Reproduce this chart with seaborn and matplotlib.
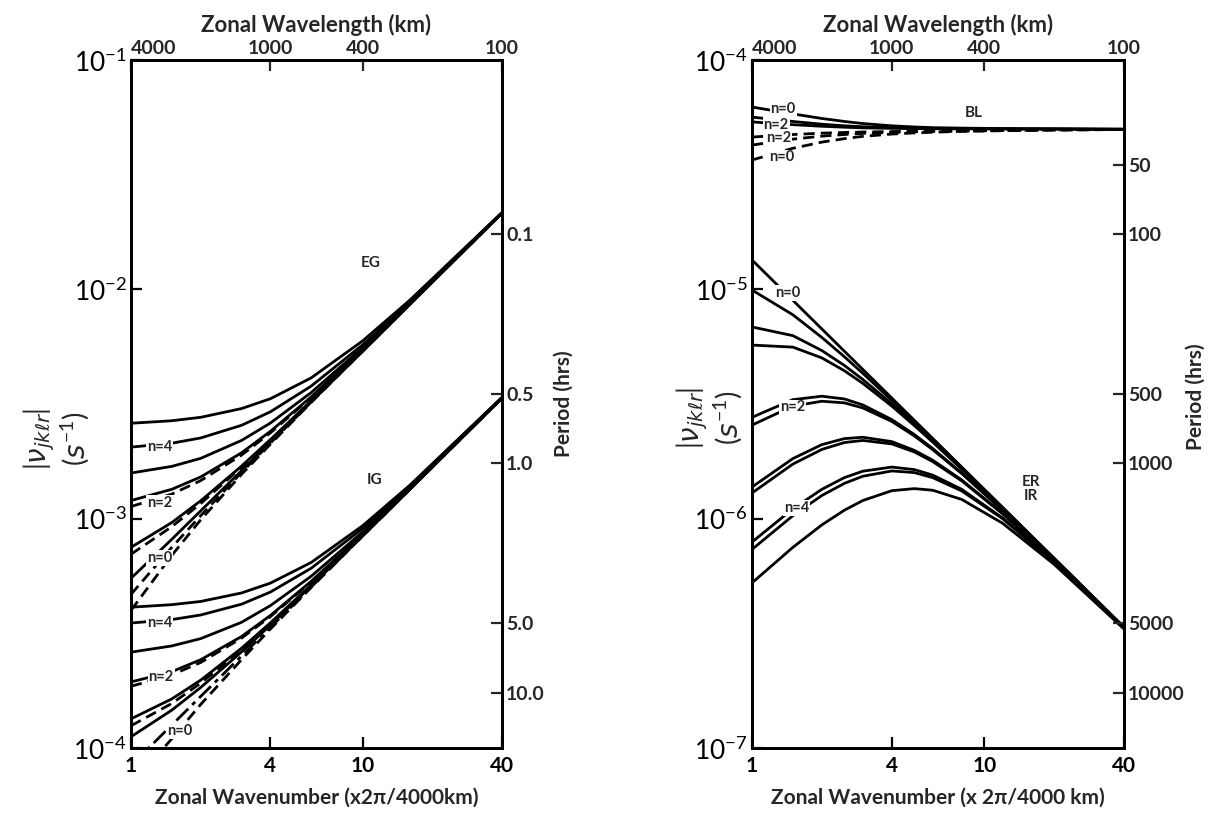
import numpy as np
import pandas as pd
import matplotlib
matplotlib.use("Agg")
import matplotlib.pyplot as plt
import seaborn as sns

# ---------------- data: log10 |nu| (s^-1) ----------------
K_LEFT = [1, 1.5, 2, 3, 4, 6, 10, 16, 40]
EG_SOLID = [
    [-2.584, -2.573, -2.558, -2.520, -2.477, -2.386, -2.225, -2.047, -1.665],
    [-2.688, -2.671, -2.648, -2.593, -2.534, -2.422, -2.242, -2.054, -1.666],
    [-2.801, -2.772, -2.737, -2.659, -2.583, -2.450, -2.254, -2.059, -1.666],
    [-2.921, -2.872, -2.818, -2.713, -2.619, -2.469, -2.261, -2.062, -1.667],
    [-3.125, -3.017, -2.922, -2.771, -2.655, -2.486, -2.268, -2.065, -1.667],
    [-3.260, -3.090, -2.966, -2.791, -2.666, -2.490, -2.270, -2.065, -1.667],
]
EG_DASHED = [
    [-2.947, -2.893, -2.834, -2.723, -2.626, -2.472, -2.262, -2.063, -1.667],
    [-3.155, -3.035, -2.934, -2.776, -2.658, -2.488, -2.269, -2.065, -1.667],
    [-3.330, -3.125, -2.987, -2.799, -2.670, -2.491, -2.270, -2.065, -1.667],
    [-3.400, -3.160, -3.005, -2.807, -2.675, -2.493, -2.270, -2.065, -1.667],
]
IG_SOLID = [
    [-3.386, -3.375, -3.361, -3.324, -3.281, -3.191, -3.031, -2.854, -2.471],
    [-3.455, -3.440, -3.420, -3.373, -3.320, -3.216, -3.043, -2.859, -2.472],
    [-3.582, -3.555, -3.523, -3.452, -3.379, -3.251, -3.058, -2.865, -2.473],
    [-3.712, -3.667, -3.615, -3.514, -3.422, -3.273, -3.067, -2.869, -2.473],
    [-3.873, -3.786, -3.704, -3.565, -3.454, -3.289, -3.073, -2.871, -2.473],
    [-3.951, -3.835, -3.736, -3.581, -3.464, -3.293, -3.075, -2.872, -2.474],
]
IG_DASHED = [
    [-3.731, -3.681, -3.627, -3.521, -3.427, -3.276, -3.068, -2.869, -2.473],
    [-3.903, -3.806, -3.717, -3.572, -3.458, -3.291, -3.074, -2.871, -2.473],
    [-4.160, -3.960, -3.810, -3.615, -3.481, -3.300, -3.076, -2.872, -2.474],
]
IG_DASHDOT = [
    [-4.076, -3.900, -3.775, -3.599, -3.474, -3.298, -3.076, -2.872, -2.474],
]

K_RIGHT = [1, 1.5, 2, 2.5, 3, 4, 5, 6, 8, 12, 20, 40]
BL_SOLID = [
    [-4.205, -4.235, -4.255, -4.268, -4.277, -4.287, -4.292, -4.295, -4.297, -4.299, -4.300, -4.302],
    [-4.249, -4.268, -4.280, -4.287, -4.291, -4.295, -4.297, -4.298, -4.299, -4.300, -4.301, -4.302],
    [-4.270, -4.282, -4.289, -4.293, -4.296, -4.298, -4.299, -4.300, -4.300, -4.301, -4.301, -4.302],
]
BL_DASHED = [
    [-4.336, -4.325, -4.319, -4.316, -4.314, -4.312, -4.311, -4.310, -4.309, -4.307, -4.305, -4.303],
    [-4.371, -4.345, -4.332, -4.325, -4.320, -4.316, -4.313, -4.312, -4.310, -4.308, -4.305, -4.303],
    [-4.436, -4.385, -4.358, -4.343, -4.333, -4.323, -4.318, -4.315, -4.311, -4.308, -4.305, -4.303],
]
ERIR_SOLID = [
    [-4.872, -5.048, -5.173, -5.270, -5.349, -5.474, -5.571, -5.650, -5.775, -5.951, -6.173, -6.474],
    [-5.003, -5.111, -5.210, -5.294, -5.366, -5.484, -5.577, -5.654, -5.777, -5.952, -6.173, -6.474],
    [-5.164, -5.202, -5.267, -5.332, -5.393, -5.499, -5.587, -5.662, -5.782, -5.954, -6.174, -6.474],
    [-5.243, -5.252, -5.299, -5.355, -5.410, -5.509, -5.594, -5.666, -5.784, -5.955, -6.175, -6.475],
    [-5.558, -5.481, -5.466, -5.478, -5.504, -5.568, -5.633, -5.694, -5.801, -5.963, -6.177, -6.475],
    [-5.592, -5.509, -5.488, -5.495, -5.517, -5.576, -5.639, -5.699, -5.803, -5.964, -6.177, -6.475],
    [-5.862, -5.738, -5.677, -5.651, -5.645, -5.664, -5.702, -5.745, -5.831, -5.977, -6.183, -6.476],
    [-5.888, -5.762, -5.698, -5.668, -5.659, -5.674, -5.709, -5.751, -5.835, -5.979, -6.183, -6.476],
    [-6.102, -5.957, -5.872, -5.821, -5.793, -5.775, -5.786, -5.810, -5.872, -5.997, -6.190, -6.478],
    [-6.134, -5.987, -5.899, -5.846, -5.815, -5.792, -5.799, -5.821, -5.879, -6.000, -6.191, -6.479],
    [-6.280, -6.125, -6.027, -5.963, -5.921, -5.878, -5.869, -5.876, -5.916, -6.020, -6.199, -6.481],
]

WAVENUMBER_TICKS = [1, 4, 10, 40]
WAVENUMBER_LABELS = ['1', '4', '10', '40']
WAVELENGTH_LABELS = ['4000', '1000', '400', '100']
LEFT_YTICKS = [1e-4, 1e-3, 1e-2, 1e-1]
RIGHT_YTICKS = [1e-7, 1e-6, 1e-5, 1e-4]
PERIOD_LEFT_HRS = [0.1, 0.5, 1.0, 5.0, 10.0]
PERIOD_LEFT_LABELS = ['0.1', '0.5', '1.0', '5.0', '10.0']
PERIOD_RIGHT_HRS = [50, 100, 500, 1000, 5000, 10000]
PERIOD_RIGHT_LABELS = ['50', '100', '500', '1000', '5000', '10000']

# curve labels: (text, k, log10 nu)
LEFT_NOTES = [('n=4', 1.33, -2.688), ('n=2', 1.33, -2.930), ('n=0', 1.33, -3.170),
              ('n=4', 1.33, -3.455), ('n=2', 1.35, -3.690), ('n=0', 1.62, -3.925)]
RIGHT_NOTES = [('n=0', 1.36, -4.212), ('n=2', 1.27, -4.283), ('n=2', 1.30, -4.338),
               ('n=0', 1.34, -4.425), ('n=0', 1.42, -5.015), ('n=2', 1.50, -5.515),
               ('n=4', 1.56, -5.955)]


def frame(k, groups):
    rows = []
    for name, kind, curves in groups:
        for i, c in enumerate(curves):
            for kk, v in zip(k, c):
                rows.append((kk, 10.0 ** v, f"{name}{i}", kind))
    return pd.DataFrame(rows, columns=['k', 'nu', 'curve', 'kind'])


def period_to_freq(hrs):
    # angular frequency (s^-1) of a given period in hours
    return 2 * np.pi / (3600.0 * np.asarray(hrs, dtype=float))


dfL = frame(K_LEFT, [('egs', 'solid', EG_SOLID), ('egd', 'dashed', EG_DASHED),
                     ('igs', 'solid', IG_SOLID), ('igd', 'dashed', IG_DASHED),
                     ('igx', 'dashdot', IG_DASHDOT)])
dfR = frame(K_RIGHT, [('bls', 'solid', BL_SOLID), ('bld', 'dashed', BL_DASHED),
                      ('er', 'solid', ERIR_SOLID)])

sns.set_theme(style="white")
plt.rcParams['font.family'] = ['Lato', 'DejaVu Sans']
plt.rcParams['mathtext.fontset'] = 'custom'
plt.rcParams['mathtext.rm'] = 'Lato'
plt.rcParams['mathtext.it'] = 'DejaVu Sans:italic'
plt.rcParams['mathtext.bf'] = 'Lato:bold'

DASHES = {'solid': '', 'dashed': (4, 2.2), 'dashdot': (6, 2, 1.5, 2)}

fig = plt.figure(figsize=(12.16, 8.15), dpi=100)
axL = fig.add_axes([131 / 1216, 67 / 815, 371 / 1216, 688 / 815])
axR = fig.add_axes([752 / 1216, 67 / 815, 372 / 1216, 688 / 815])


def style_axes(ax, df, ylim, yticks, notes, periods, plabels, xlabel, pl_xy, yl_xy):
    ax.set_xscale('log')
    ax.set_yscale('log')
    sns.lineplot(data=df, x='k', y='nu', units='curve', estimator=None, style='kind',
                 dashes=DASHES, color='black', lw=2.0, legend=False, ax=ax, sort=False)
    ax.set_xlim(1, 40)
    ax.set_ylim(*ylim)
    ax.set_xticks(WAVENUMBER_TICKS)
    ax.set_xticklabels(WAVENUMBER_LABELS, fontsize=15, fontweight='bold')
    ax.set_yticks(yticks)
    ax.set_yticklabels([f"$10^{{{int(np.log10(t))}}}$" for t in yticks], fontsize=19)
    ax.minorticks_off()
    ax.tick_params(direction='in', length=8, width=1.6, pad=6, colors='black')
    ax.tick_params(axis='y', pad=3)
    ax.set_xlabel(xlabel, fontsize=15, fontweight='bold', labelpad=8)
    ax.set_ylabel("$|\\nu_{jk\\ell r}|$\n$(s^{-1})$", fontsize=20, linespacing=1.05)
    ax.yaxis.set_label_coords(*yl_xy)
    for s in ax.spines.values():
        s.set_linewidth(2.0)
        s.set_color('black')
    for txt, kk, lv in notes:
        ax.text(kk, 10 ** lv, txt, fontsize=10.5, fontweight='bold', ha='center', va='center',
                zorder=5, bbox=dict(facecolor='white', edgecolor='none', pad=0.6))

    top = ax.twiny()
    top.set_xscale('log')
    top.set_xlim(1, 40)
    top.set_xticks(WAVENUMBER_TICKS)
    top.set_xticklabels(WAVELENGTH_LABELS, fontsize=14, fontweight='bold')
    top.minorticks_off()
    top.tick_params(direction='in', length=8, width=1.6, pad=2)
    top.get_xticklabels()[0].set_ha('left')
    top.set_xlabel('Zonal Wavelength (km)', fontsize=16, fontweight='bold', labelpad=6)

    right = ax.twinx()
    right.set_yscale('log')
    right.set_ylim(*ylim)
    right.set_yticks(period_to_freq(periods))
    right.set_yticklabels(plabels, fontsize=14, fontweight='bold')
    right.minorticks_off()
    right.tick_params(direction='in', length=8, width=1.6, pad=3)
    right.set_ylabel('Period (hrs)', fontsize=15, fontweight='bold')
    right.yaxis.set_label_coords(*pl_xy)
    for s in list(top.spines.values()) + list(right.spines.values()):
        s.set_linewidth(2.0)
        s.set_color('black')
    return ax


style_axes(axL, dfL, (1e-4, 1e-1), LEFT_YTICKS, LEFT_NOTES, PERIOD_LEFT_HRS,
           PERIOD_LEFT_LABELS, 'Zonal Wavenumber (x2\u03c0/4000km)', (1.14, 0.50), (-0.105, 0.45))
style_axes(axR, dfR, (1e-7, 1e-4), RIGHT_YTICKS, RIGHT_NOTES, PERIOD_RIGHT_HRS,
           PERIOD_RIGHT_LABELS, 'Zonal Wavenumber (x 2\u03c0/4000 km)', (1.165, 0.51), (-0.02, 0.48))

axL.text(10.8, 1.3e-2, 'EG', fontsize=11, fontweight='bold', ha='center', va='center')
axL.text(11.3, 1.47e-3, 'IG', fontsize=11, fontweight='bold', ha='center', va='center')
axR.text(9.0, 5.9e-5, 'BL', fontsize=11, fontweight='bold', ha='center', va='center')
axR.text(15.9, 10 ** -5.87, 'ER\nIR', fontsize=11, fontweight='bold', ha='center', va='center',
         linespacing=1.0)

fig.savefig('out.png', dpi=100)
